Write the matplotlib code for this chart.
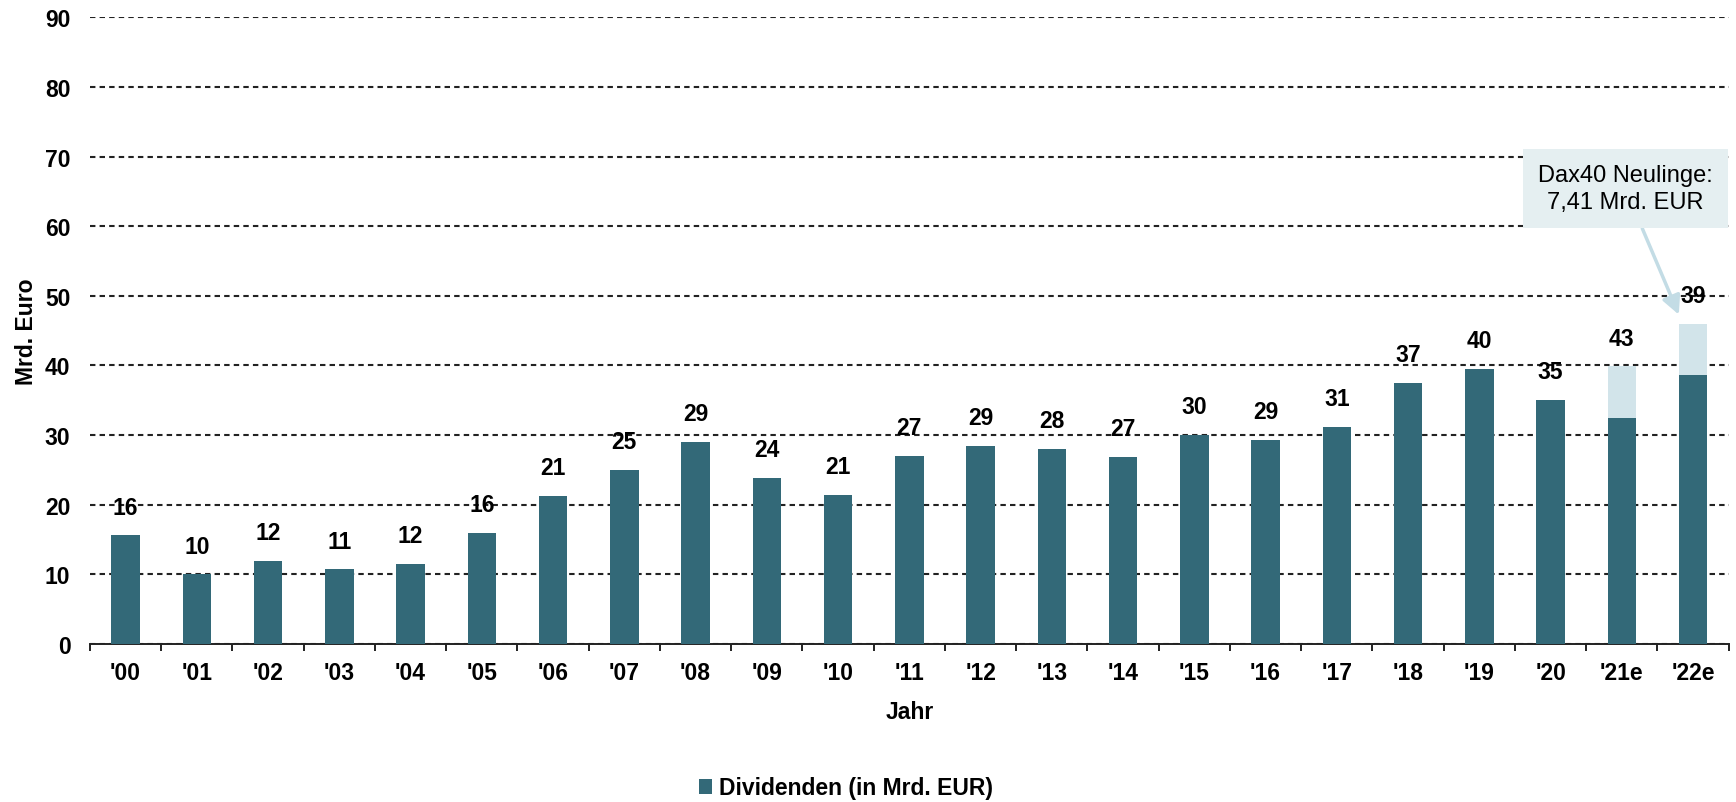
import matplotlib
matplotlib.use('Agg')
import matplotlib.pyplot as plt
import numpy as np

plt.rcParams['font.family'] = ['Liberation Sans', 'DejaVu Sans']

jahre = ["'00", "'01", "'02", "'03", "'04", "'05", "'06", "'07", "'08", "'09", "'10",
         "'11", "'12", "'13", "'14", "'15", "'16", "'17", "'18", "'19", "'20", "'21e", "'22e"]
dividenden = [15.6, 10.0, 11.9, 10.7, 11.5, 16.0, 21.3, 25.0, 29.0, 23.85, 21.45,
              27.05, 28.5, 28.0, 26.9, 30.0, 29.3, 31.2, 37.5, 39.5, 35.1, 32.45, 38.6]
neulinge = [0] * 21 + [7.41, 7.41]          # Dax40 Neulinge
beschriftung = ['16', '10', '12', '11', '12', '16', '21', '25', '29', '24', '21',
                '27', '29', '28', '27', '30', '29', '31', '37', '40', '35', '43', '39']

dunkel = '#336978'
hell = '#d2e4ea'

fig = plt.figure(figsize=(17.36, 8.03), dpi=100)
ax = fig.add_axes([0.0518, 0.1968, 0.944, 0.7804])

x = np.arange(len(jahre))
ax.bar(x, dividenden, width=0.4, color=dunkel, label='Dividenden (in Mrd. EUR)', zorder=3)
ax.bar(x, neulinge, width=0.4, bottom=dividenden, color=hell, zorder=3)

gesamt = np.array(dividenden) + np.array(neulinge)
for xi, h, txt in zip(x, gesamt, beschriftung):
    ax.annotate(txt, (xi, h), xytext=(0, 12), textcoords='offset points',
                ha='center', va='bottom', fontsize=16.5, fontweight='bold', zorder=4)

ax.set_xlim(-0.5, len(jahre) - 0.5)
ax.set_ylim(0, 90)
ax.set_yticks(range(0, 91, 10))
ax.grid(axis='y', linestyle=(0, (2.6, 2.0)), color='#222222', linewidth=1.5, zorder=0)

ax.set_xticks(x)
ax.set_xticklabels(jahre, fontsize=16.5, fontweight='bold')
ax.set_xticks(np.arange(-0.5, len(jahre)), minor=True)
ax.tick_params(axis='x', which='major', length=0, pad=12)
ax.tick_params(axis='x', which='minor', length=5, width=1.4, color='#222222', direction='out')
ax.tick_params(axis='y', length=0, pad=14, labelsize=16.5)
for lbl in ax.get_yticklabels():
    lbl.set_fontweight('bold')

for s in ['top', 'right', 'left']:
    ax.spines[s].set_visible(False)
ax.spines['bottom'].set_linewidth(1.4)
ax.spines['bottom'].set_color('#222222')

ax.set_xlabel('Jahr', fontsize=16.5, fontweight='bold', labelpad=12)
ax.set_ylabel('Mrd. Euro', fontsize=16.5, fontweight='bold', labelpad=5)

ax.annotate('Dax40 Neulinge:\n7,41 Mrd. EUR', xy=(21.8, 47.3), xytext=(21.05, 65.4),
            ha='center', va='center', fontsize=17, linespacing=1.3,
            bbox=dict(boxstyle='square,pad=0.65', fc='#e5eff1', ec='none'),
            arrowprops=dict(arrowstyle='-|>', color='#c3dce5', lw=2.5, mutation_scale=28,
                            shrinkA=0, shrinkB=0),
            zorder=5)

fig.legend(loc='center', bbox_to_anchor=(846 / 1736, 1 - 789 / 803), frameon=False,
           prop={'size': 16.5, 'weight': 'bold'}, handlelength=0.6, handleheight=0.6,
           handletextpad=0.3)

fig.savefig('out.png', dpi=100)
